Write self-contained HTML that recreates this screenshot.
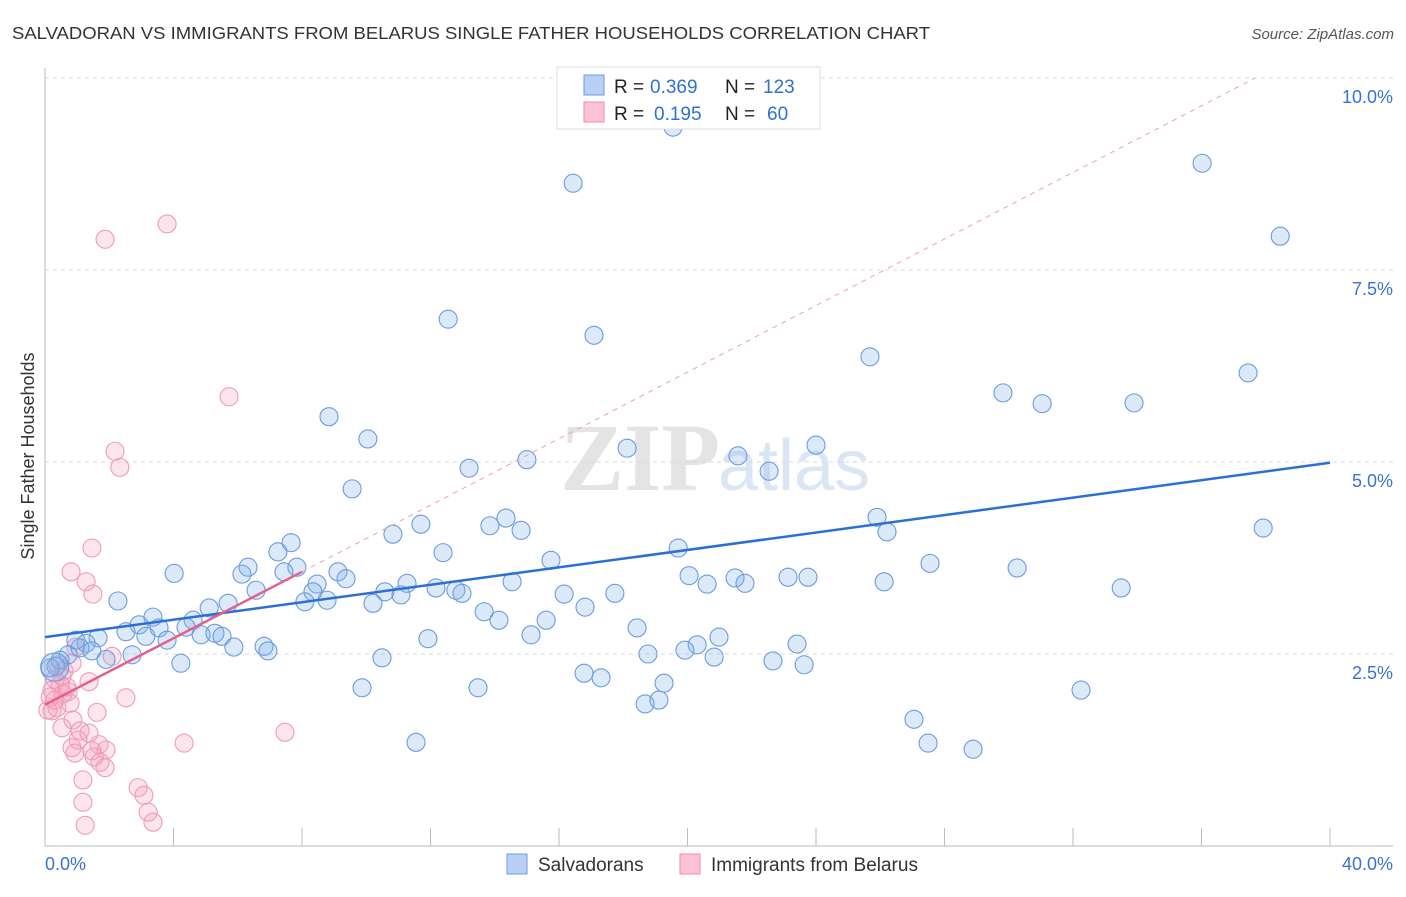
<!DOCTYPE html>
<html><head><meta charset="utf-8"><style>
body{margin:0;background:#fff;font-family:"Liberation Sans",sans-serif;}
</style></head><body>
<svg width="1406" height="892" xmlns="http://www.w3.org/2000/svg" id="chart">
<text x="12" y="39" font-size="17.5" fill="#333" textLength="918" lengthAdjust="spacingAndGlyphs">SALVADORAN VS IMMIGRANTS FROM BELARUS SINGLE FATHER HOUSEHOLDS CORRELATION CHART</text>
<text x="1394" y="39" font-size="15" fill="#555" font-style="italic" text-anchor="end">Source: ZipAtlas.com</text>
<text x="720" y="490" font-size="96" fill="#e4e4e4" text-anchor="end" font-family="Liberation Serif" font-weight="bold">ZIP</text>
<text x="718" y="490" font-size="72" fill="#dbe6f5">atlas</text>
<g id="grid"></g><g id="axes"></g><g id="pts"></g><g id="lines"></g>
<text transform="translate(34,456) rotate(-90)" font-size="18" fill="#333" text-anchor="middle">Single Father Households</text>
<g>
<rect x="557" y="67" width="263" height="62" fill="#fff" stroke="#ddd"/>
<rect x="584" y="75" width="20" height="20" fill="#b8d0f3" stroke="#6a9be0"/>
<rect x="584" y="102" width="20" height="20" fill="#fbc4d4" stroke="#eb8fae"/>
<text x="614" y="93" font-size="19" fill="#222">R =</text>
<text x="650" y="93" font-size="19" fill="#2f6fd6">0.369</text>
<text x="725" y="93" font-size="19" fill="#222">N =</text>
<text x="763" y="93" font-size="19" fill="#2f6fd6">123</text>
<text x="614" y="120" font-size="19" fill="#222">R =</text>
<text x="654" y="120" font-size="19" fill="#2f6fd6">0.195</text>
<text x="725" y="120" font-size="19" fill="#222">N =</text>
<text x="767" y="120" font-size="19" fill="#2f6fd6">60</text>
</g>
<g>
<rect x="507" y="854" width="20" height="20" fill="#b8d0f3" stroke="#6a9be0"/>
<text x="538" y="871" font-size="19" fill="#333">Salvadorans</text>
<rect x="680" y="854" width="20" height="20" fill="#fbc4d4" stroke="#eb8fae"/>
<text x="711" y="871" font-size="19" fill="#333">Immigrants from Belarus</text>
</g>
</svg>
<script>
const yTicks=[2.5,5,7.5,10];
const yTickLabels=["2.5%","5.0%","7.5%","10.0%"];
const xTickVals=[0,4,8,12,16,20,24,28,32,36,40];
const blueX=[19.55,16.44,36.02,38.45,12.55,17.09,25.68,37.45,29.82,31.04,33.9,8.84,10.05,18.12,24.0,21.57,13.2,15.0,22.54,9.56,37.92,25.9,26.21,11.7,10.83,13.85,14.35,14.82,7.66,7.25,12.39,19.71,15.75,27.55,30.26,6.32,6.13,4.02,7.84,7.44,9.12,9.37,8.47,20.05,21.48,21.79,20.61,23.13,23.75,26.12,33.5,14.54,11.27,10.58,11.08,12.17,12.79,12.98,8.34,8.78,8.09,10.21,16.16,17.74,6.57,5.7,5.11,2.27,16.81,13.67,14.13,15.6,3.36,2.93,3.55,4.61,4.39,2.52,3.14,4.86,5.29,5.51,3.8,5.88,6.82,6.94,15.13,18.43,20.98,20.3,19.92,23.41,1.65,1.28,1.09,1.46,0.96,2.71,1.9,0.72,0.47,0.34,0.16,4.23,10.49,11.92,18.77,20.83,22.66,23.63,16.78,17.31,19.27,9.87,13.48,32.25,18.68,19.11,27.05,27.49,28.89,11.55,0.3];
const blueY=[9.36,8.63,8.89,7.94,6.86,6.65,6.37,6.16,5.9,5.76,5.77,5.59,5.3,5.18,5.22,5.08,4.92,5.03,4.88,4.65,4.14,4.28,4.09,4.19,4.06,4.17,4.27,4.11,3.95,3.83,3.82,3.88,3.72,3.68,3.62,3.63,3.54,3.55,3.63,3.57,3.57,3.48,3.41,3.52,3.49,3.42,3.41,3.5,3.5,3.44,3.36,3.44,3.42,3.31,3.27,3.36,3.33,3.29,3.31,3.2,3.18,3.16,3.28,3.29,3.33,3.16,3.1,3.19,3.11,3.05,2.94,2.94,2.98,2.88,2.84,2.94,2.85,2.79,2.73,2.75,2.77,2.73,2.68,2.59,2.6,2.54,2.75,2.84,2.72,2.62,2.55,2.63,2.71,2.64,2.58,2.54,2.68,2.49,2.43,2.49,2.42,2.34,2.32,2.38,2.45,2.7,2.5,2.46,2.41,2.36,2.25,2.19,2.12,2.06,2.06,2.03,1.85,1.9,1.65,1.34,1.26,1.35,2.33];
const pinkX=[3.8,1.87,5.73,2.18,2.33,1.46,0.81,1.28,1.49,2.09,0.96,0.84,0.59,0.4,0.31,0.47,0.22,0.68,0.16,0.56,1.37,2.52,0.78,0.37,0.22,0.09,1.62,0.87,0.53,1.09,1.37,7.47,4.33,1.03,1.68,0.84,1.9,0.93,1.46,1.53,1.71,1.18,2.9,3.08,1.18,3.21,3.36,1.25,1.87,0.53,0.72,0.31];
const pinkY=[8.1,7.9,5.85,5.14,4.93,3.88,3.57,3.44,3.28,2.47,2.59,2.38,2.28,2.36,2.17,2.1,2.03,2.07,1.94,1.98,2.14,1.93,1.86,1.8,1.76,1.77,1.74,1.64,1.54,1.5,1.47,1.48,1.34,1.38,1.32,1.28,1.25,1.21,1.24,1.16,1.09,0.86,0.76,0.66,0.57,0.44,0.31,0.27,1.02,2.21,2.01,1.9];
const blueLine=[2.72,4.99];
const pinkLine=[1.84,3.57];
const pinkSlope=0.2166;
const NS="http://www.w3.org/2000/svg";
const X=v=>45+v/40*1285, Y=v=>846-v*76.8;
function mk(t,a,p){const e=document.createElementNS(NS,t);for(const k in a)e.setAttribute(k,a[k]);p.appendChild(e);return e;}
const grid=document.getElementById('grid'),axes=document.getElementById('axes'),pts=document.getElementById('pts'),lines=document.getElementById('lines');
yTicks.forEach((t,i)=>{
 const l=mk('line',{x1:45,x2:1393,y1:Y(t),y2:Y(t),stroke:'#d8d8d8','stroke-dasharray':'4,4'},grid);
 
 
 const tx=mk('text',{x:1393,y:Y(t)+25,'font-size':18,fill:'#3a72d4','text-anchor':'end'},grid);
 tx.textContent=yTickLabels[i];
 
 
});
const ax=mk('line',{x1:45,x2:45,y1:68,y2:846,stroke:'#bbb'},axes);


const bx=mk('line',{x1:45,x2:1393,y1:846,y2:846,stroke:'#bbb'},axes);


xTickVals.forEach(v=>{
 const t=mk('line',{x1:X(v),x2:X(v),y1:828,y2:846,stroke:'#bbb'},axes);
 
 
});
[["0.0%",45,'start'],["40.0%",1393,'end']].forEach(d=>{
 const t=mk('text',{x:d[1],y:870,'font-size':18,fill:'#3a72d4','text-anchor':d[2]},axes);
 t.textContent=d[0];
 
 
});
pinkX.forEach((x,i)=>{
 const c=mk('circle',{cx:X(x),cy:Y(pinkY[i]),r:9,fill:'rgba(246,160,185,0.28)',stroke:'#ef9bb7','stroke-width':1.1},pts);
 
 
});
blueX.forEach((x,i)=>{
 const c=mk('circle',{cx:X(x),cy:Y(blueY[i]),r:i==blueX.length-1?14:9,fill:'rgba(130,175,235,0.28)',stroke:'#6a9be0','stroke-width':1.1},pts);
 
 
});
const xEnd=(10-pinkLine[0])/pinkSlope;
const pd=mk('line',{x1:X(8),y1:Y(pinkLine[1]),x2:X(xEnd),y2:Y(10),stroke:'#eba0b8','stroke-dasharray':'5,5','stroke-width':1},lines);


const bl=mk('line',{x1:X(0),y1:Y(blueLine[0]),x2:X(40),y2:Y(blueLine[1]),stroke:'#2a6fd6','stroke-width':2.5},lines);


const pl=mk('line',{x1:X(0),y1:Y(pinkLine[0]),x2:X(8),y2:Y(pinkLine[1]),stroke:'#e4608a','stroke-width':2.5},lines);


</script>
</body></html>
